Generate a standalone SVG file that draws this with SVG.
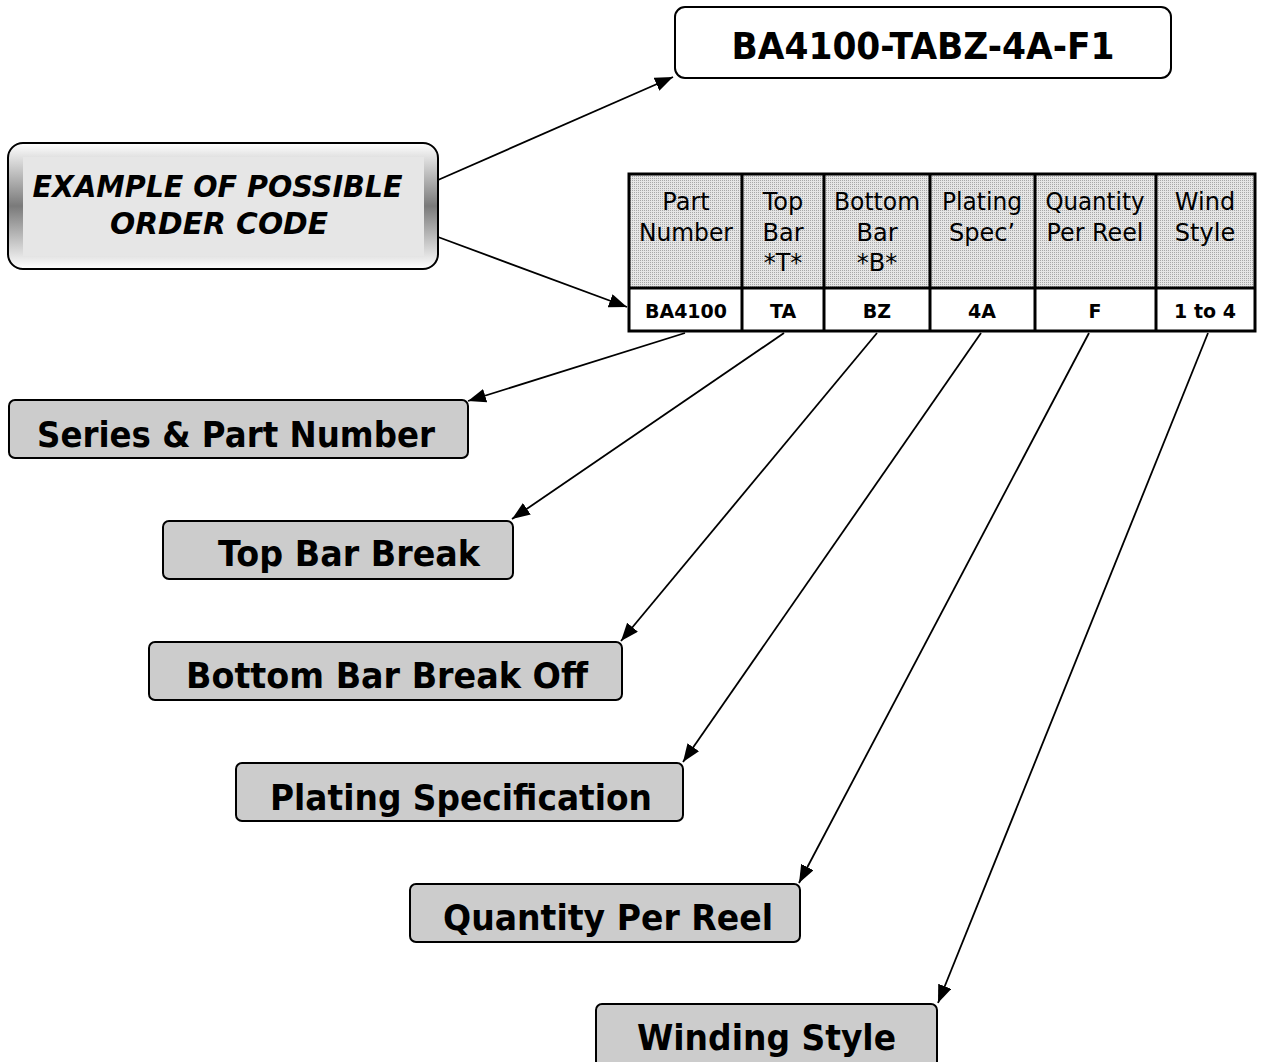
<svg xmlns="http://www.w3.org/2000/svg" width="1263" height="1062" viewBox="0 0 1263 1062">
<style>
.lbl{fill:#cccccc;stroke:#000;stroke-width:2}
.lt{font-family:"DejaVu Sans",Verdana,sans-serif;font-weight:bold;font-size:35px;fill:#000}
.ht{font-family:"DejaVu Sans",Verdana,sans-serif;font-size:24px;fill:#000;text-anchor:middle}
.vt{font-family:"DejaVu Sans",Verdana,sans-serif;font-weight:bold;font-size:19px;fill:#000;text-anchor:middle}
.con{stroke:#000;stroke-width:1.8;fill:none;marker-end:url(#ah)}
.grid{stroke:#000;stroke-width:3;fill:none}
</style>
<defs>
<marker id="ah" markerUnits="userSpaceOnUse" markerWidth="20" markerHeight="16" refX="18" refY="7" orient="auto">
<path d="M0,0 L18,7 L0,14 z" fill="#000"/>
</marker>
<linearGradient id="bevel" x1="0" y1="0" x2="0" y2="1">
<stop offset="0" stop-color="#ffffff"/>
<stop offset="0.5" stop-color="#7a7a7a"/>
<stop offset="1" stop-color="#ffffff"/>
</linearGradient>
<pattern id="dots" width="2" height="2" patternUnits="userSpaceOnUse">
<rect width="2" height="2" fill="#e6e6e6"/>
<rect width="1" height="1" fill="#a8a8a8"/>
</pattern>
</defs>

<g id="order-code">
<rect x="675" y="7" width="496" height="71" rx="10" fill="#fff" stroke="#000" stroke-width="2"/>
<text x="923" y="59" text-anchor="middle" font-family="DejaVu Sans,Verdana,sans-serif" font-weight="bold" font-size="37" textLength="383" lengthAdjust="spacingAndGlyphs">BA4100-TABZ-4A-F1</text>
</g>

<g id="example">
<rect x="8" y="143" width="430" height="126" rx="15" fill="url(#bevel)" stroke="#000" stroke-width="2"/>
<rect x="23" y="157" width="401" height="99" fill="#e6e6e6"/>
<text font-family="DejaVu Sans,Verdana,sans-serif" font-weight="bold" font-style="italic" font-size="31" text-anchor="middle">
<tspan x="223" y="197" textLength="370" lengthAdjust="spacingAndGlyphs">EXAMPLE OF POSSIBLE</tspan>
<tspan x="219" y="234" textLength="218" lengthAdjust="spacingAndGlyphs">ORDER CODE</tspan>
</text>
</g>

<g id="table">
<rect x="629" y="174" width="626" height="114" fill="url(#dots)"/>
<rect x="629" y="288" width="626" height="43" fill="#fff"/>
<rect x="629" y="174" width="626" height="157" class="grid"/>
<line x1="629" y1="288" x2="1255" y2="288" class="grid"/>
<line x1="742" y1="174" x2="742" y2="331" class="grid"/>
<line x1="824" y1="174" x2="824" y2="331" class="grid"/>
<line x1="930" y1="174" x2="930" y2="331" class="grid"/>
<line x1="1035" y1="174" x2="1035" y2="331" class="grid"/>
<line x1="1156" y1="174" x2="1156" y2="331" class="grid"/>
<text class="ht"><tspan x="686" y="210">Part</tspan><tspan x="686" y="241" textLength="94" lengthAdjust="spacingAndGlyphs">Number</tspan></text>
<text class="ht"><tspan x="783" y="210">Top</tspan><tspan x="783" y="241">Bar</tspan><tspan x="783" y="271">*T*</tspan></text>
<text class="ht"><tspan x="877" y="210" textLength="86" lengthAdjust="spacingAndGlyphs">Bottom</tspan><tspan x="877" y="241">Bar</tspan><tspan x="877" y="271">*B*</tspan></text>
<text class="ht"><tspan x="982" y="210" textLength="80" lengthAdjust="spacingAndGlyphs">Plating</tspan><tspan x="982" y="241">Spec’</tspan></text>
<text class="ht"><tspan x="1095" y="210" textLength="99" lengthAdjust="spacingAndGlyphs">Quantity</tspan><tspan x="1095" y="241" textLength="97" lengthAdjust="spacingAndGlyphs">Per Reel</tspan></text>
<text class="ht"><tspan x="1205" y="210">Wind</tspan><tspan x="1205" y="241">Style</tspan></text>
<text class="vt" x="686" y="318">BA4100</text>
<text class="vt" x="783" y="318">TA</text>
<text class="vt" x="877" y="318">BZ</text>
<text class="vt" x="982" y="318">4A</text>
<text class="vt" x="1095" y="318">F</text>
<text class="vt" x="1205" y="318">1 to 4</text>
</g>

<g id="series">
<rect class="lbl" x="9" y="400" width="459" height="58" rx="6"/>
<text class="lt" x="37" y="447" textLength="398" lengthAdjust="spacingAndGlyphs">Series &amp; Part Number</text>
</g>
<g id="top-bar">
<rect class="lbl" x="163" y="521" width="350" height="58" rx="6"/>
<text class="lt" x="218" y="566" textLength="262" lengthAdjust="spacingAndGlyphs">Top Bar Break</text>
</g>
<g id="bottom-bar">
<rect class="lbl" x="149" y="642" width="473" height="58" rx="6"/>
<text class="lt" x="186" y="688" textLength="402" lengthAdjust="spacingAndGlyphs">Bottom Bar Break Off</text>
</g>
<g id="plating">
<rect class="lbl" x="236" y="763" width="447" height="58" rx="6"/>
<text class="lt" x="270" y="810" textLength="382" lengthAdjust="spacingAndGlyphs">Plating Specification</text>
</g>
<g id="quantity">
<rect class="lbl" x="410" y="884" width="390" height="58" rx="6"/>
<text class="lt" x="443" y="930" textLength="330" lengthAdjust="spacingAndGlyphs">Quantity Per Reel</text>
</g>
<g id="winding">
<rect class="lbl" x="596" y="1004" width="341" height="70" rx="6"/>
<text class="lt" x="637" y="1050" textLength="259" lengthAdjust="spacingAndGlyphs">Winding Style</text>
</g>

<g id="connectors">
<line class="con" x1="438" y1="180" x2="673" y2="77"/>
<line class="con" x1="438" y1="237" x2="627" y2="307"/>
<line class="con" x1="685" y1="333" x2="468" y2="401"/>
<line class="con" x1="784" y1="333" x2="512" y2="519"/>
<line class="con" x1="877" y1="333" x2="621" y2="641"/>
<line class="con" x1="981" y1="333" x2="683" y2="762"/>
<line class="con" x1="1089" y1="333" x2="799" y2="883"/>
<line class="con" x1="1208" y1="333" x2="938" y2="1003"/>
</g>
</svg>
